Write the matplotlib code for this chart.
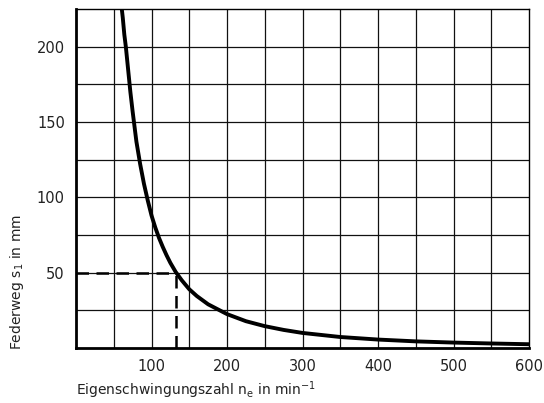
"""
Federweg über Eigenschwingungszahl
"""

import matplotlib
matplotlib.use('Agg')
import matplotlib.pyplot as plt

# Werte
drehzahl = [60, 62, 64, 66, 68, 70, 72, 75, 78, 80, 85, 90, 95, 100, 105, 110,
            115, 120, 125, 132, 140, 150, 160, 175, 200, 225, 250, 275, 300,
            350, 400, 450, 500, 550, 600]
federweg = [228, 219, 208, 200, 190, 180, 170, 157, 145, 137, 122, 109, 98, 88,
            80, 73, 67, 61.5, 56.5, 50.5, 45, 39, 34.5, 29, 22.5, 17.8, 14.5,
            12, 10, 7.3, 5.6, 4.4, 3.6, 3.0, 2.5]

# markierter Arbeitspunkt
punkt_n = 132
punkt_s = 50

x_ticks = [100, 200, 300, 400, 500, 600]
y_ticks = [50, 100, 150, 200]

plt.rcParams['mathtext.default'] = 'regular'

fig = plt.figure(figsize=(5.44, 4.03), dpi=100)
ax = fig.add_axes([76 / 544, 1 - 348 / 403, 453 / 544, 339 / 403])

ax.set_xlim(0, 600)
ax.set_ylim(0, 225)

# Gitter alle 50 bzw. 25
for xv in range(50, 600, 50):
    ax.axvline(xv, color='#111111', linewidth=0.9, zorder=1)
for yv in range(25, 225, 25):
    ax.axhline(yv, color='#111111', linewidth=0.9, zorder=1)

ax.plot(drehzahl, federweg, color='black', linewidth=2.8,
        solid_capstyle='butt', solid_joinstyle='round', zorder=3)

# Ablesehilfe gestrichelt
ax.plot([0, punkt_n], [punkt_s, punkt_s], color='black', linewidth=1.8,
        dashes=(5, 3), zorder=2)
ax.plot([punkt_n, punkt_n], [0, punkt_s], color='black', linewidth=1.8,
        dashes=(5, 3), zorder=2)

for side in ['top', 'right']:
    ax.spines[side].set_linewidth(1.0)
for side in ['left', 'bottom']:
    ax.spines[side].set_linewidth(2.0)

ax.set_xticks(x_ticks)
ax.set_yticks(y_ticks)
ax.tick_params(length=0, labelsize=10.5, pad=8, colors='#222222')

fig.text(76 / 544, 1 - 390 / 403, r'Eigenschwingungszahl $n_e$ in min$^{-1}$',
         ha='left', va='center', fontsize=10, color='#222222')
fig.text(17 / 544, 1 - 350 / 403, r'Federweg $s_1$ in mm', rotation=90,
         ha='center', va='bottom', fontsize=10, color='#222222')

fig.savefig('out.png', dpi=100)
plt.close(fig)
